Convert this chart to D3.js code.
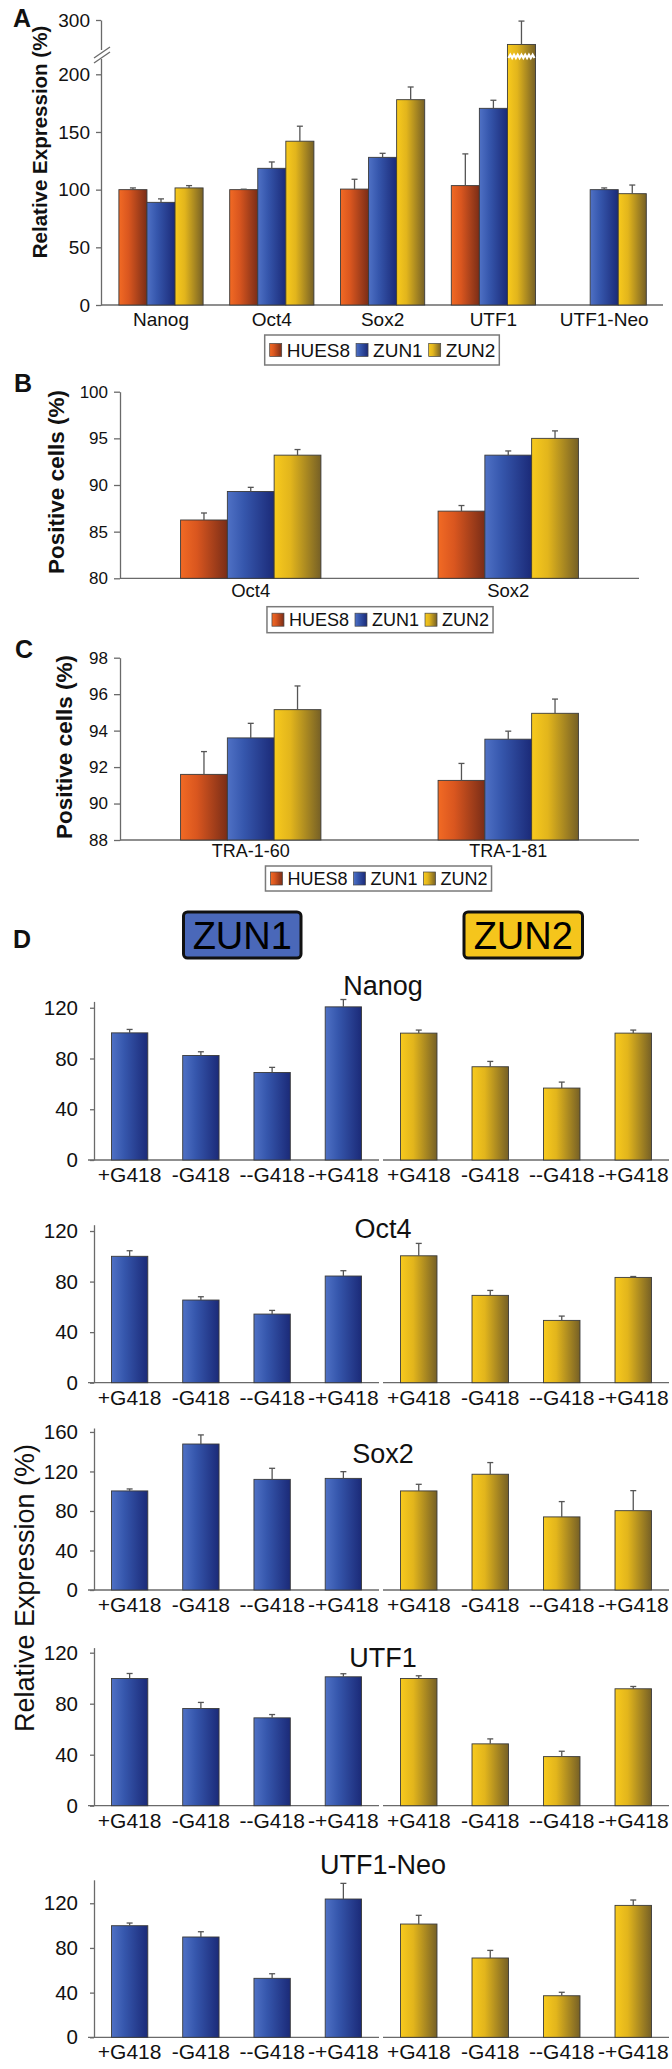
<!DOCTYPE html>
<html><head><meta charset="utf-8">
<script src="https://cdn.jsdelivr.net/npm/d3@7"></script>
<style>
html,body{margin:0;padding:0;background:#fff;}
svg{display:block;font-family:"Liberation Sans",Arial,Helvetica,sans-serif;}
</style></head><body>
<svg id="fig" width="672" height="2069"></svg>
<script>
// ---------------- DATA ----------------
const seriesNames = ["HUES8", "ZUN1", "ZUN2"];

// Panel A: relative expression (%)
const genesA = ["Nanog", "Oct4", "Sox2", "UTF1", "UTF1-Neo"];
const hues8A = [100, 100, 100.5, 103.5, null];
const hues8AErr = [1.5, 0.4, 8.5, 27.5, null];
const zun1A = [89, 118.5, 128, 170.5, 100];
const zun1AErr = [3, 5.5, 3.5, 7, 1.5];
const zun2A = [101.5, 142, 178, 255, 96.5];
const zun2AErr = [2, 13, 11, 43, 7.5];
const ticksA = [0, 50, 100, 150, 200, 300];

// Panel B: positive cells (%)
const markersB = ["Oct4", "Sox2"];
const hues8B = [86.25, 87.2];
const hues8BErr = [0.75, 0.6];
const zun1B = [89.3, 93.2];
const zun1BErr = [0.45, 0.45];
const zun2B = [93.2, 95.0];
const zun2BErr = [0.6, 0.8];
const ticksB = [80, 85, 90, 95, 100];

// Panel C: positive cells (%)
const markersC = ["TRA-1-60", "TRA-1-81"];
const hues8C = [91.6, 91.27];
const hues8CErr = [1.25, 0.93];
const zun1C = [93.6, 93.53];
const zun1CErr = [0.8, 0.44];
const zun2C = [95.15, 94.95];
const zun2CErr = [1.3, 0.78];
const ticksC = [88, 90, 92, 94, 96, 98];

// Panel D: relative expression (%) under G418 conditions
const conditions = ["+G418", "-G418", "--G418", "-+G418"];
const genesD = ["Nanog", "Oct4", "Sox2", "UTF1", "UTF1-Neo"];
const zun1Nanog = [100.2, 82.4, 69, 120.7];
const zun1NanogErr = [2.7, 2.9, 4, 5.8];
const zun2Nanog = [100, 73.5, 56.7, 100];
const zun2NanogErr = [2.4, 4.2, 4.7, 2.4];
const zun1Oct4 = [100, 65.4, 54.3, 84.4];
const zun1Oct4Err = [4.4, 2.6, 2.9, 4.2];
const zun2Oct4 = [100.4, 69.1, 49.3, 83.3];
const zun2Oct4Err = [9.8, 3.9, 3.4, 0.7];
const zun1Sox2 = [100.3, 147.8, 112, 113];
const zun1Sox2Err = [2, 9.2, 11.2, 6.8];
const zun2Sox2 = [100.3, 117.2, 74, 80.3];
const zun2Sox2Err = [6.7, 11.8, 15.5, 20.3];
const zun1UTF1 = [99.8, 76.2, 68.9, 101.1];
const zun1UTF1Err = [3.9, 4.8, 2.6, 2.4];
const zun2UTF1 = [99.8, 48.5, 38.5, 91.7];
const zun2UTF1Err = [2.1, 3.9, 4.2, 1.8];
const zun1Neo = [99.9, 89.8, 52.8, 123.8];
const zun1NeoErr = [2.4, 4.7, 4.1, 14];
const zun2Neo = [101.4, 71, 37.2, 118.1];
const zun2NeoErr = [7.8, 6.8, 3.1, 4.8];
const ticksD = [0, 40, 80, 120];
const ticksDSox2 = [0, 40, 80, 120, 160];

// ---------------- DRAWING ----------------
const svg = d3.select("#fig");
const defs = svg.append("defs");
const stops = {
  HUES8: ["#f26a24", "#d9561f", "#7a2d17"],
  ZUN1: ["#4f71c5", "#3657ad", "#1b2a78"],
  ZUN2: ["#f8ca1d", "#e2b51c", "#766026"]
};
const boxFill = {ZUN1: "#4a68b9", ZUN2: "#f5c51c"};
Object.entries(stops).forEach(([k, c]) => {
  const g = defs.append("linearGradient").attr("id", "g-" + k)
    .attr("x1", 0).attr("x2", 1).attr("y1", 0).attr("y2", 0);
  g.append("stop").attr("offset", "0%").attr("stop-color", c[0]);
  g.append("stop").attr("offset", "35%").attr("stop-color", c[1]);
  g.append("stop").attr("offset", "100%").attr("stop-color", c[2]);
});

const AX = "#6a6a6a";
function styleAxis(g, fs) {
  g.select(".domain").attr("stroke", AX).attr("stroke-width", 1.3);
  g.selectAll(".tick line").attr("stroke", AX).attr("stroke-width", 1.3);
  g.selectAll(".tick text").attr("fill", "#111").attr("font-size", fs).attr("font-family", null);
}

function panelLabel(t, x, y) {
  svg.append("text").attr("x", x).attr("y", y).attr("font-size", 25)
    .attr("font-weight", "bold").attr("fill", "#111").text(t);
}
function yTitle(t, x, y, fs, bold) {
  svg.append("text").attr("transform", `translate(${x},${y}) rotate(-90)`)
    .attr("text-anchor", "middle").attr("font-size", fs)
    .attr("font-weight", bold ? "bold" : "normal").attr("fill", "#111").text(t);
}

function drawBar(g, bx, bw, y, base, v, e, s) {
  g.append("rect").attr("x", bx).attr("y", y(v)).attr("width", bw)
    .attr("height", y(base) - y(v)).attr("fill", `url(#g-${s})`)
    .attr("stroke", "#3a3a3a").attr("stroke-width", 0.9);
  const cx = bx + bw / 2;
  g.append("line").attr("x1", cx).attr("x2", cx).attr("y1", y(v)).attr("y2", y(v + e))
    .attr("stroke", "#555").attr("stroke-width", 1.3);
  g.append("line").attr("x1", cx - 3).attr("x2", cx + 3).attr("y1", y(v + e)).attr("y2", y(v + e))
    .attr("stroke", "#555").attr("stroke-width", 1.3);
}

function legend(cx, y, h, fs) {
  const g = svg.append("g");
  const box = g.append("rect").attr("y", y).attr("height", h).attr("fill", "#fff")
    .attr("stroke", "#7a7a7a").attr("stroke-width", 1.5);
  let x = 5;
  const items = g.append("g");
  seriesNames.forEach(s => {
    items.append("rect").attr("x", x).attr("y", y + h / 2 - 6.5).attr("width", 12).attr("height", 13)
      .attr("fill", `url(#g-${s})`).attr("stroke", "#444").attr("stroke-width", 0.7);
    const t = items.append("text").attr("x", x + 17).attr("y", y + h / 2 + fs * 0.36)
      .attr("font-size", fs).attr("fill", "#111").text(s);
    x += 17 + t.node().getComputedTextLength() + 6;
  });
  const w = x - 2;
  box.attr("x", cx - w / 2).attr("width", w);
  items.attr("transform", `translate(${cx - w / 2},0)`);
}

function groupedPanel(cfg) {
  const g = svg.append("g");
  const x0 = d3.scaleBand().domain(cfg.categories).range(cfg.xRange)
    .paddingInner(cfg.pad).paddingOuter(cfg.pad / 2);
  const x1 = d3.scaleBand().domain(seriesNames).range([0, x0.bandwidth()]);
  const y = cfg.y;
  const xa = g.append("g").attr("transform", `translate(0,${y(cfg.base)})`)
    .call(d3.axisBottom(x0).tickSize(0).tickPadding(cfg.xPad));
  styleAxis(xa, cfg.xfs);
  xa.select(".domain").attr("d", `M${cfg.axisX},0H${cfg.xEnd}`);
  const ya = g.append("g").attr("transform", `translate(${cfg.axisX},0)`)
    .call(d3.axisLeft(y).tickValues(cfg.ticks).tickSize(cfg.tickLen).tickPadding(cfg.tickPad).tickSizeOuter(0));
  styleAxis(ya, cfg.yfs);
  seriesNames.forEach((s, si) => {
    cfg.categories.forEach((c, ci) => {
      const v = cfg.values[si][ci];
      if (v == null) return;
      drawBar(g, x0(c) + x1(s), x1.bandwidth(), y, cfg.base, v, cfg.errors[si][ci], s);
    });
  });
  return {g, x0, x1, y, ya};
}

// ---- Panel A ----
panelLabel("A", 13, 27);
const yA = d3.scaleLinear().domain([0, 200, 300]).range([305, 74.3, 20]);
const pA = groupedPanel({
  categories: genesA, xRange: [105.6, 659.6], pad: 0.24, y: yA, base: 0,
  values: [hues8A, zun1A, zun2A], errors: [hues8AErr, zun1AErr, zun2AErr],
  axisX: 101, xEnd: 663, ticks: ticksA, tickLen: 5, tickPad: 6, yfs: 19, xfs: 19, xPad: 8
});
pA.g.append("rect").attr("x", 96).attr("y", 50).attr("width", 10).attr("height", 9).attr("fill", "#fff");
[0, 5].forEach(o => {
  pA.g.append("line").attr("x1", 94).attr("y1", 63 - o).attr("x2", 110).attr("y2", 52 - o)
    .attr("stroke", AX).attr("stroke-width", 1.3);
});
{
  const bx = pA.x0("UTF1") + pA.x1("ZUN2"), bw = pA.x1.bandwidth();
  const yz = yA(233);
  const n = Math.floor(bw / 2);
  const pts = d3.range(0, n + 1).map(i => [bx + 1 + i * (bw - 2) / n, yz + (i % 2 ? -1.6 : 1.6)]);
  pA.g.append("path").attr("d", d3.line()(pts)).attr("fill", "none")
    .attr("stroke", "#fff").attr("stroke-width", 2.2);
}
yTitle("Relative Expression (%)", 47, 142, 20.5, true);
legend(382, 335, 30, 19);

// ---- Panel B ----
panelLabel("B", 14, 392);
groupedPanel({
  categories: markersB, xRange: [122, 637], pad: 0.455,
  y: d3.scaleLinear().domain([80, 100]).range([578.3, 391.7]), base: 80,
  values: [hues8B, zun1B, zun2B], errors: [hues8BErr, zun1BErr, zun2BErr],
  axisX: 120, xEnd: 639, ticks: ticksB, tickLen: 6, tickPad: 6, yfs: 17, xfs: 18.5, xPad: 6
});
yTitle("Positive cells (%)", 64, 482, 22.5, true);
legend(380, 606.7, 26, 18);

// ---- Panel C ----
panelLabel("C", 15, 658);
groupedPanel({
  categories: markersC, xRange: [122, 637], pad: 0.455,
  y: d3.scaleLinear().domain([88, 98]).range([840, 657.7]), base: 88,
  values: [hues8C, zun1C, zun2C], errors: [hues8CErr, zun1CErr, zun2CErr],
  axisX: 120, xEnd: 639, ticks: ticksC, tickLen: 6, tickPad: 6, yfs: 17, xfs: 18, xPad: 4
});
yTitle("Positive cells (%)", 72, 747, 22.5, true);
legend(378.5, 866, 25, 18);

// ---- Panel D ----
panelLabel("D", 13, 948);
[["ZUN1", 183.5, 301], ["ZUN2", 464, 582.5]].forEach(([s, x0, x1]) => {
  svg.append("rect").attr("x", x0).attr("y", 912).attr("width", x1 - x0).attr("height", 46)
    .attr("rx", 4).attr("fill", boxFill[s]).attr("stroke", "#111").attr("stroke-width", 3);
  svg.append("text").attr("x", (x0 + x1) / 2).attr("y", 948.5).attr("text-anchor", "middle")
    .attr("font-size", 38).attr("fill", "#000").text(s);
});

const dValues = {
  "Nanog": [zun1Nanog, zun1NanogErr, zun2Nanog, zun2NanogErr],
  "Oct4": [zun1Oct4, zun1Oct4Err, zun2Oct4, zun2Oct4Err],
  "Sox2": [zun1Sox2, zun1Sox2Err, zun2Sox2, zun2Sox2Err],
  "UTF1": [zun1UTF1, zun1UTF1Err, zun2UTF1, zun2UTF1Err],
  "UTF1-Neo": [zun1Neo, zun1NeoErr, zun2Neo, zun2NeoErr]
};
const dLayout = {
  "Nanog": {max: 125, y0: 1160, yTop: 1001.4, ticks: ticksD, titleY: 995},
  "Oct4": {max: 125, y0: 1382.7, yTop: 1224.7, ticks: ticksD, titleY: 1238},
  "Sox2": {max: 164, y0: 1590, yTop: 1428, ticks: ticksDSox2, titleY: 1463},
  "UTF1": {max: 124, y0: 1805.7, yTop: 1647.6, ticks: ticksD, titleY: 1667},
  "UTF1-Neo": {max: 141, y0: 2037.3, yTop: 1879.8, ticks: ticksD, titleY: 1874}
};
genesD.forEach(gene => {
  const L = dLayout[gene];
  const [v1, e1, v2, e2] = dValues[gene];
  const y = d3.scaleLinear().domain([0, L.max]).range([L.y0, L.yTop]);
  const g = svg.append("g");
  [["ZUN1", v1, e1, [94, 379], 88], ["ZUN2", v2, e2, [383, 669], 383]].forEach(([s, vals, errs, xr, xStart]) => {
    const x = d3.scaleBand().domain(conditions).range(xr).paddingInner(0.49).paddingOuter(0.245);
    const xa = g.append("g").attr("transform", `translate(0,${L.y0})`)
      .call(d3.axisBottom(x).tickSize(0).tickPadding(7));
    styleAxis(xa, 21);
    xa.select(".domain").attr("d", `M${xStart},0H${xr[1]}`);
    conditions.forEach((c, i) => drawBar(g, x(c), x.bandwidth(), y, 0, vals[i], errs[i], s));
  });
  const ya = g.append("g").attr("transform", "translate(94,0)")
    .call(d3.axisLeft(y).tickValues(L.ticks).tickSize(4).tickPadding(12).tickSizeOuter(0));
  styleAxis(ya, 20.5);
  g.append("text").attr("x", 383).attr("y", L.titleY).attr("text-anchor", "middle")
    .attr("font-size", 27).attr("fill", "#111").text(gene);
});
yTitle("Relative Expression (%)", 34, 1588, 27, false);
</script></body></html>
